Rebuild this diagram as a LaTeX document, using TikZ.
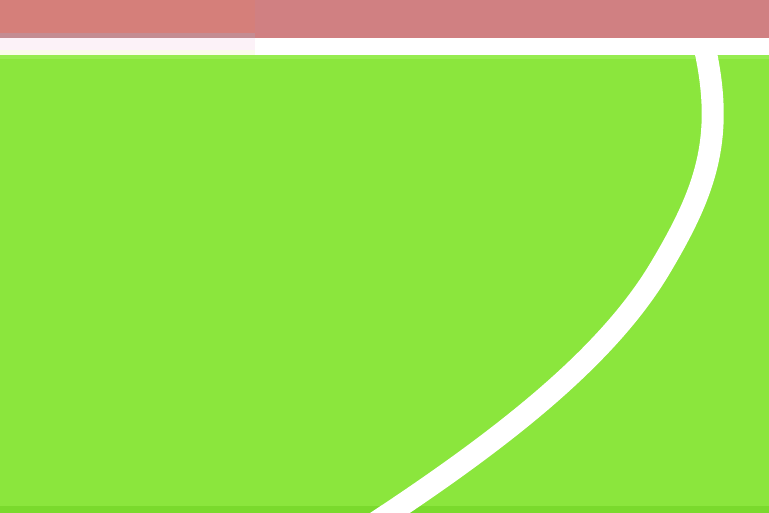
\documentclass[tikz,border=0pt]{standalone}
\usepackage{tikz}
\usetikzlibrary{calc}
\definecolor{trackred}{RGB}{208,128,130}
\definecolor{trackpatch}{RGB}{213,127,122}
\definecolor{trackedge}{RGB}{196,140,146}
\definecolor{linepink}{RGB}{252,242,248}
\definecolor{lineyellow}{RGB}{250,252,235}
\definecolor{turf}{RGB}{139,230,61}
\definecolor{turflight}{RGB}{150,236,80}
\definecolor{turfdark}{RGB}{122,218,45}
\tikzstyle{chalk} = [white, line width=0.44cm, line cap=butt]
\tikzstyle{band} = [draw=none]
\begin{document}
\begin{tikzpicture}[x=0.02cm, y=-0.02cm]
    \useasboundingbox (0,0) rectangle (769,513);
    \clip (0,0) rectangle (769,513);
    % grass
    \fill[turf] (0,0) rectangle (769,513);
    \fill[turflight] (0,55) rectangle (769,59);
    \fill[turfdark] (0,506) rectangle (769,513);
    % curved chalk line
    \coordinate (top) at (703,40);
    \coordinate (mid) at (659,270);
    \coordinate (low) at (393,511);
    \coordinate (out) at (343,544);
    \draw[chalk] (top) .. controls (726,136) and (707,190) .. (mid)
        .. controls (607,356) and (507.4,434.4) .. (low) -- (out);
    % running track and boundary line
    \fill[trackred, band] (0,0) rectangle (769,38);
    \fill[trackpatch, band] (0,0) rectangle (255,33);
    \fill[trackedge, band] (0,33) rectangle (255,38);
    \fill[white, band] (0,38) rectangle (769,55);
    \fill[linepink, band] (0,38) rectangle (255,50);
    \fill[lineyellow, band] (0,50) rectangle (255,55);
\end{tikzpicture}
\end{document}
